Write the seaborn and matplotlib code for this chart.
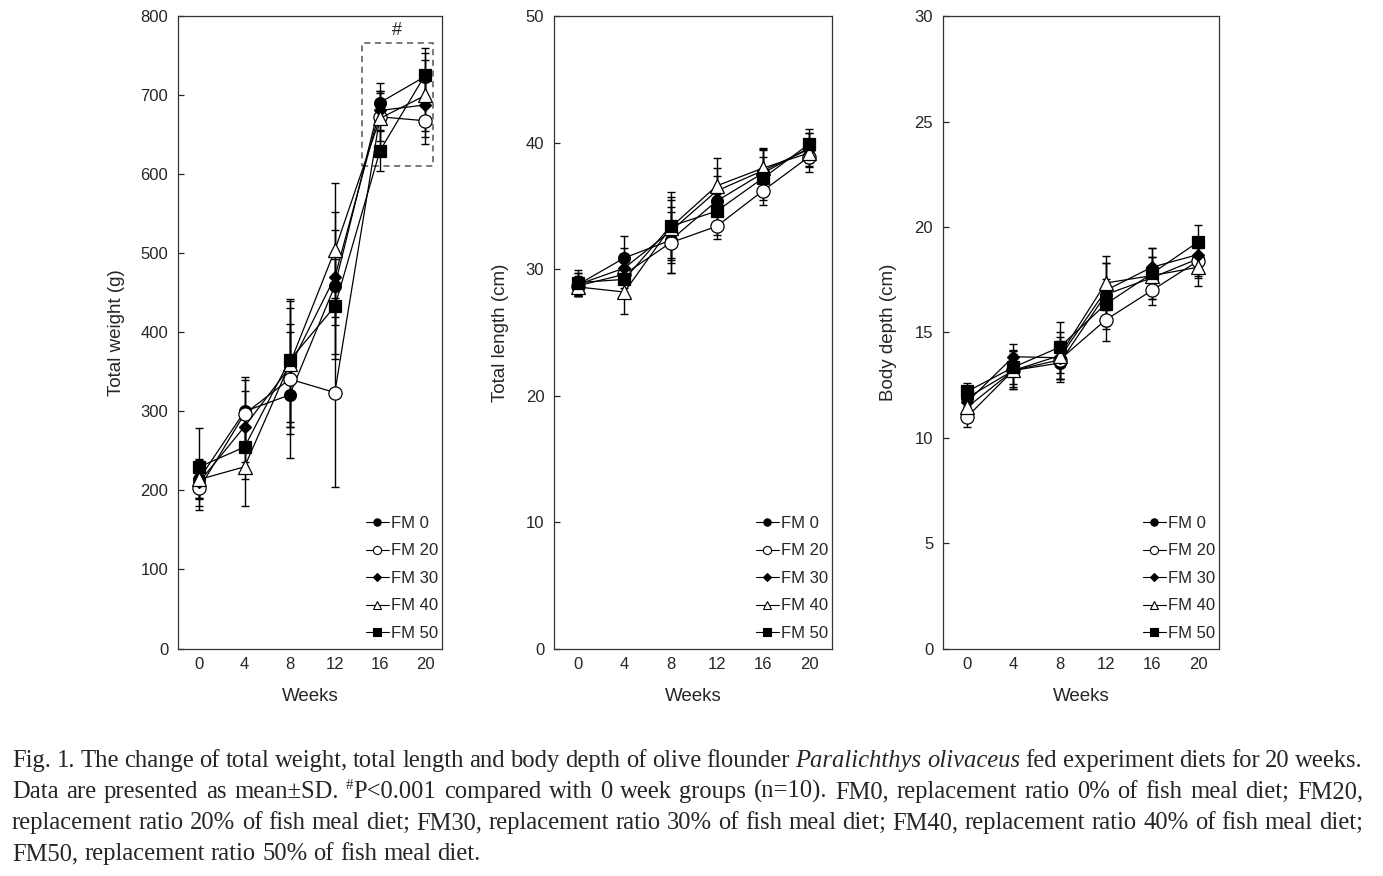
import pandas as pd
import numpy as np
import matplotlib
matplotlib.use("Agg")
import matplotlib.pyplot as plt
from matplotlib.lines import Line2D
from matplotlib.patches import Rectangle
import seaborn as sns

# data
weeks = [0, 4, 8, 12, 16, 20]
groups = ["FM 0", "FM 20", "FM 30", "FM 40", "FM 50"]

# total weight (g)
weight_fm0 = [215, 300, 321, 459, 691, 724]
weight_fm20 = [203, 297, 341, 324, 673, 668]
weight_fm30 = [211, 281, 356, 470, 681, 688]
weight_fm40 = [214, 230, 360, 504, 671, 700]
weight_fm50 = [230, 255, 365, 433, 630, 726]
weight_sd_fm0 = [25, 40, 80, 93, 25, 30]
weight_sd_fm20 = [28, 47, 70, 120, 30, 30]
weight_sd_fm30 = [20, 45, 75, 60, 25, 40]
weight_sd_fm40 = [25, 49, 80, 85, 35, 45]
weight_sd_fm50 = [49, 40, 78, 60, 25, 34]

# total length (cm)
length_fm0 = [28.8, 30.9, 32.3, 35.4, 37.6, 39.6]
length_fm20 = [28.7, 29.6, 32.1, 33.4, 36.2, 38.9]
length_fm30 = [28.8, 30.1, 33.0, 36.2, 37.8, 39.5]
length_fm40 = [28.6, 28.2, 33.3, 36.6, 38.0, 39.2]
length_fm50 = [28.95, 29.2, 33.4, 34.6, 37.2, 39.9]
length_sd_fm0 = [0.9, 1.7, 2.6, 2.0, 1.8, 1.2]
length_sd_fm20 = [0.8, 1.5, 2.4, 1.0, 1.1, 1.2]
length_sd_fm30 = [0.9, 1.6, 2.5, 1.8, 1.7, 1.3]
length_sd_fm40 = [0.7, 1.7, 2.4, 2.2, 1.6, 1.1]
length_sd_fm50 = [1.0, 1.4, 2.7, 1.9, 1.7, 1.2]

# body depth (cm)
depth_fm0 = [11.9, 13.2, 13.55, 16.8, 17.6, 18.5]
depth_fm20 = [11.0, 13.2, 13.7, 15.6, 17.0, 18.4]
depth_fm30 = [11.7, 13.85, 13.8, 17.0, 18.1, 18.7]
depth_fm40 = [11.45, 13.2, 13.9, 17.35, 17.7, 18.1]
depth_fm50 = [12.2, 13.35, 14.3, 16.35, 17.8, 19.3]
depth_sd_fm0 = [0.5, 0.9, 0.9, 1.5, 1.0, 0.8]
depth_sd_fm20 = [0.5, 0.8, 0.9, 1.0, 0.7, 0.8]
depth_sd_fm30 = [0.6, 0.6, 1.0, 1.3, 0.9, 0.8]
depth_sd_fm40 = [0.5, 0.9, 1.1, 1.3, 0.9, 0.9]
depth_sd_fm50 = [0.4, 0.8, 1.2, 1.2, 1.2, 0.8]


def long_table(means, sds):
    rows = []
    for g, m, s in zip(groups, means, sds):
        for w, v, e in zip(weeks, m, s):
            rows.append({"week": w, "group": g, "value": v, "sd": e})
    return pd.DataFrame(rows)


df_weight = long_table([weight_fm0, weight_fm20, weight_fm30, weight_fm40, weight_fm50],
                       [weight_sd_fm0, weight_sd_fm20, weight_sd_fm30, weight_sd_fm40, weight_sd_fm50])
df_length = long_table([length_fm0, length_fm20, length_fm30, length_fm40, length_fm50],
                       [length_sd_fm0, length_sd_fm20, length_sd_fm30, length_sd_fm40, length_sd_fm50])
df_depth = long_table([depth_fm0, depth_fm20, depth_fm30, depth_fm40, depth_fm50],
                      [depth_sd_fm0, depth_sd_fm20, depth_sd_fm30, depth_sd_fm40, depth_sd_fm50])

# marker styles per group
styles = {
    "FM 0": dict(marker="o", markerfacecolor="black", markersize=8.5),
    "FM 20": dict(marker="o", markerfacecolor="white", markersize=9.5),
    "FM 30": dict(marker="D", markerfacecolor="black", markersize=6),
    "FM 40": dict(marker="^", markerfacecolor="white", markersize=10),
    "FM 50": dict(marker="s", markerfacecolor="black", markersize=8.5),
}

sns.set_style("ticks")
plt.rcParams["font.family"] = ["Liberation Sans", "DejaVu Sans"]

fig = plt.figure(figsize=(13.83, 8.76), dpi=100)

H = 0.7215
B = 0.2597
ax1 = fig.add_axes([0.1287, B, 0.1909, H])
ax2 = fig.add_axes([0.4006, B, 0.2010, H])
ax3 = fig.add_axes([0.6818, B, 0.1996, H])

panels = [
    (ax1, df_weight, "Total weight (g)", (0, 800), np.arange(0, 801, 100), (-1.9, 21.5), -0.2),
    (ax2, df_length, "Total length (cm)", (0, 50), np.arange(0, 51, 10), (-2.1, 22.0), -0.162),
    (ax3, df_depth, "Body depth (cm)", (0, 30), np.arange(0, 31, 5), (-2.1, 21.8), -0.167),
]

for ax, df, ylab, ylim, yticks, xlim, ylab_x in panels:
    for g in groups:
        sub = df[df["group"] == g]
        ax.errorbar(sub["week"], sub["value"], yerr=sub["sd"], fmt="none",
                    ecolor="black", elinewidth=1.0, capsize=3, capthick=1.0, zorder=1)
    for g in groups:
        sub = df[df["group"] == g]
        st = styles[g]
        sns.lineplot(data=sub, x="week", y="value", ax=ax, color="black", lw=0.9,
                     marker=st["marker"], markersize=st["markersize"],
                     markerfacecolor=st["markerfacecolor"], markeredgecolor="black",
                     markeredgewidth=0.9, legend=False, zorder=3)
    ax.set_xlim(*xlim)
    ax.set_ylim(*ylim)
    ax.set_xticks(weeks)
    ax.set_yticks(yticks)
    ax.set_xlabel("Weeks", fontsize=13.5)
    ax.set_ylabel(ylab, fontsize=13.5)
    ax.xaxis.set_label_coords(0.5, -0.063)
    ax.xaxis.label.set_va("top")
    ax.yaxis.set_label_coords(ylab_x, 0.5)
    ax.tick_params(axis="y", direction="in", length=4, width=0.9, pad=7, labelsize=12)
    ax.tick_params(axis="x", direction="in", length=0, pad=6, labelsize=12)
    for sp in ax.spines.values():
        sp.set_visible(True)
        sp.set_linewidth(0.9)
        sp.set_color("#333333")

    handles = []
    for g in groups:
        st = styles[g]
        handles.append(Line2D([0], [0], color="black", lw=0.8, marker=st["marker"],
                              markersize=st["markersize"] * 0.62,
                              markerfacecolor=st["markerfacecolor"],
                              markeredgecolor="black", markeredgewidth=0.8))
    ax.legend(handles, groups, loc="lower right", bbox_to_anchor=(0.985, 0.012),
              frameon=False, fontsize=12, handlelength=1.4, handletextpad=0.1,
              labelspacing=0.75, borderaxespad=0, borderpad=0)

# significance box on the weight panel
ax1.add_patch(Rectangle((14.4, 611), 6.3, 156, fill=False, ls=(0, (4, 3)),
                        edgecolor="#555555", lw=1.1, zorder=0))
ax1.text(17.5, 772, "#", ha="center", va="bottom", fontsize=13)

# caption, justified like the printed page
cap_lines = [
    [[("Fig.", "n")], [("1.", "n")], [("The", "n")], [("change", "n")], [("of", "n")],
     [("total", "n")], [("weight,", "n")], [("total", "n")], [("length", "n")], [("and", "n")],
     [("body", "n")], [("depth", "n")], [("of", "n")], [("olive", "n")], [("flounder", "n")],
     [("Paralichthys", "i")], [("olivaceus", "i")], [("fed", "n")], [("experiment", "n")],
     [("diets", "n")], [("for", "n")], [("20", "n")], [("weeks.", "n")]],
    [[("Data", "n")], [("are", "n")], [("presented", "n")], [("as", "n")], [("mean±SD.", "n")],
     [("#", "sup"), ("P<0.001", "n")], [("compared", "n")], [("with", "n")], [("0", "n")],
     [("week", "n")], [("groups", "n")], [("(n=10).", "n")], [("FM0,", "n")],
     [("replacement", "n")], [("ratio", "n")], [("0%", "n")], [("of", "n")], [("fish", "n")],
     [("meal", "n")], [("diet;", "n")], [("FM20,", "n")]],
    [[("replacement", "n")], [("ratio", "n")], [("20%", "n")], [("of", "n")], [("fish", "n")],
     [("meal", "n")], [("diet;", "n")], [("FM30,", "n")], [("replacement", "n")], [("ratio", "n")],
     [("30%", "n")], [("of", "n")], [("fish", "n")], [("meal", "n")], [("diet;", "n")],
     [("FM40,", "n")], [("replacement", "n")], [("ratio", "n")], [("40%", "n")], [("of", "n")],
     [("fish", "n")], [("meal", "n")], [("diet;", "n")]],
    [[("FM50,", "n")], [("replacement", "n")], [("ratio", "n")], [("50%", "n")], [("of", "n")],
     [("fish", "n")], [("meal", "n")], [("diet.", "n")]],
]
cap_baselines = [767, 798, 829, 860]
W, Hpx = 1383, 876
x_left, x_right = 12, 1363
renderer = fig.canvas.get_renderer()
serif = ["Liberation Serif", "DejaVu Serif"]


def piece_size(kind, size):
    return size * 0.6 if kind == "sup" else size


def measure(text, kind, size):
    t = fig.text(0, 0, text, fontsize=piece_size(kind, size),
                 fontstyle="italic" if kind == "i" else "normal", family=serif)
    w = t.get_window_extent(renderer).width
    t.remove()
    return w


def fits(words, size):
    total = sum(measure(txt, k, size) for word in words for txt, k in word)
    space_w = measure("a b", "n", size) - measure("ab", "n", size)
    return total + 0.75 * space_w * (len(words) - 1) <= x_right - x_left


# one font size for the whole caption: the largest that lets every line fit
cap_size = 18.5
while cap_size > 10 and not all(fits(w, cap_size) for w in cap_lines[:-1]):
    cap_size -= 0.25

for li, (words, yb) in enumerate(zip(cap_lines, cap_baselines)):
    total = sum(measure(txt, k, cap_size) for word in words for txt, k in word)
    space_w = measure("a b", "n", cap_size) - measure("ab", "n", cap_size)
    if li < len(cap_lines) - 1:
        gap = (x_right - x_left - total) / (len(words) - 1)
    else:
        gap = space_w
    x = x_left
    for word in words:
        for txt, k in word:
            y = yb - 9 if k == "sup" else yb
            t = fig.text(x / W, 1 - y / Hpx, txt, fontsize=piece_size(k, cap_size),
                         fontstyle="italic" if k == "i" else "normal", family=serif,
                         ha="left", va="baseline")
            x += t.get_window_extent(renderer).width
        x += gap

fig.savefig("out.png", dpi=100)
